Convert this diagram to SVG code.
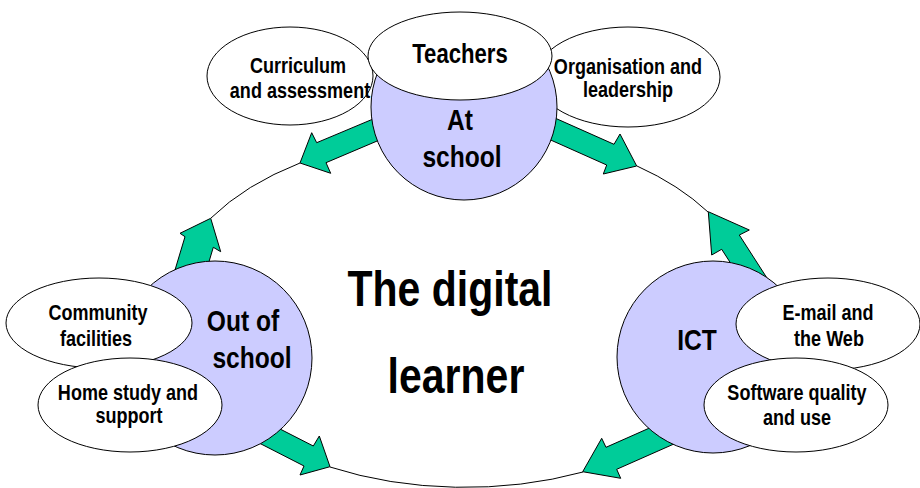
<svg xmlns="http://www.w3.org/2000/svg" width="920" height="488" viewBox="0 0 920 488">
<style>
.arc{fill:none;stroke:#000;stroke-width:1}
.arrow{fill:#00CC99;stroke:#000;stroke-width:1;stroke-linejoin:miter}
.hub{fill:#CCCCFF;stroke:#000;stroke-width:1}
.sat{fill:#FFFFFF;stroke:#000;stroke-width:1}
text{font-family:'Liberation Sans',Arial,sans-serif;font-weight:bold;text-anchor:middle;fill:#000}
.s{font-size:22px}
.t{font-size:27px}
.m{font-size:30px}
.l{font-size:50px}
</style>
<rect width="920" height="488" fill="#FFFFFF"/>
<g id="connectors">
<path class="arc" d="M300,163 A290,177 0 0 0 211,218"/>
<path class="arc" d="M637,166 A290,177 0 0 1 708,212"/>
<path class="arc" d="M330,467 A290,177 0 0 0 583,472"/>
<polygon class="arrow" points="300,163 311.7,132.7 316.7,142.7 381.7,115.4 385.4,137.5 326,162.7 330.7,173.3"/>
<polygon class="arrow" points="545,113.6 614,144.3 620,134 636.7,166 603.3,174 606.7,165 541.7,136"/>
<polygon class="arrow" points="210.7,218.3 220.7,251.7 213.3,247.3 203.3,280.8 172,280 185,236.7 180,233.3"/>
<polygon class="arrow" points="708.3,211.7 749.3,230 739.3,235 777.1,293.8 743.3,282.9 721.7,249.3 711.7,255"/>
<polygon class="arrow" points="264.4,421 313.3,446 319.3,436 330,466.7 300,475 304,466 246.2,436.4"/>
<polygon class="arrow" points="660.8,423 606,447.3 601.7,438.3 582.7,471.7 620.7,478.3 616.7,469.3 680.7,441"/>
</g>
<g id="digital-learner">
<text class="l" transform="translate(450,306) scale(0.82,1)">The digital</text>
<text class="l" transform="translate(456,393) scale(0.82,1)">learner</text>
</g>
<g id="curriculum">
<ellipse class="sat" cx="290" cy="76" rx="83" ry="49"/>
<text class="s" transform="translate(298,73) scale(0.82,1)">Curriculum</text>
<text class="s" transform="translate(300,98) scale(0.82,1)">and assessment</text>
</g>
<g id="organisation">
<ellipse class="sat" cx="628" cy="77" rx="92" ry="50"/>
<text class="s" transform="translate(628,74) scale(0.82,1)">Organisation and</text>
<text class="s" transform="translate(628,97) scale(0.82,1)">leadership</text>
</g>
<g id="at-school">
<circle class="hub" cx="464" cy="107" r="93"/>
<text class="m" transform="translate(460,130) scale(0.82,1)">At</text>
<text class="m" transform="translate(462,167) scale(0.82,1)">school</text>
</g>
<g id="teachers">
<ellipse class="sat" cx="460" cy="56" rx="92" ry="44"/>
<text class="t" transform="translate(460,63) scale(0.82,1)">Teachers</text>
</g>
<g id="out-of-school">
<circle class="hub" cx="215" cy="358" r="97"/>
<text class="m" transform="translate(243,331) scale(0.82,1)">Out of</text>
<text class="m" transform="translate(252,368) scale(0.82,1)">school</text>
</g>
<g id="community">
<ellipse class="sat" cx="99" cy="323" rx="93" ry="45"/>
<text class="s" transform="translate(98,320) scale(0.82,1)">Community</text>
<text class="s" transform="translate(96,346) scale(0.82,1)">facilities</text>
</g>
<g id="home-study">
<ellipse class="sat" cx="130" cy="405" rx="92" ry="47"/>
<text class="s" transform="translate(128,400) scale(0.82,1)">Home study and</text>
<text class="s" transform="translate(129,423) scale(0.82,1)">support</text>
</g>
<g id="ict">
<circle class="hub" cx="713" cy="357" r="96"/>
<text class="m" transform="translate(697,350) scale(0.82,1)">ICT</text>
</g>
<g id="email">
<ellipse class="sat" cx="828" cy="324" rx="92" ry="46"/>
<text class="s" transform="translate(828,320) scale(0.82,1)">E-mail and</text>
<text class="s" transform="translate(829,346) scale(0.82,1)">the Web</text>
</g>
<g id="software">
<ellipse class="sat" cx="796" cy="405" rx="92" ry="47"/>
<text class="s" transform="translate(797,400) scale(0.82,1)">Software quality</text>
<text class="s" transform="translate(797,425) scale(0.82,1)">and use</text>
</g>
</svg>
